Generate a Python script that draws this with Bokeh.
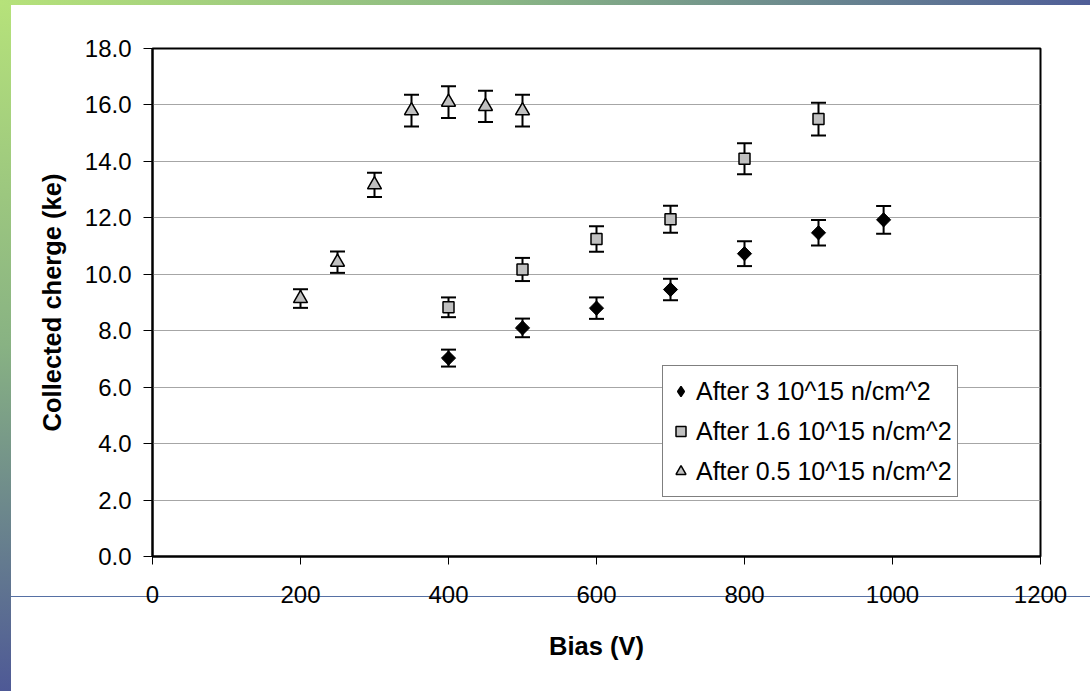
import numpy as np
from bokeh.plotting import figure
from bokeh.models import Range1d, FixedTicker, NumeralTickFormatter, Legend, LegendItem
from bokeh.embed import file_html
from bokeh.resources import INLINE

# ---------------- data ----------------
x_title = "Bias (V)"
y_title = "Collected cherge (ke)"
x_ticks = [0, 200, 400, 600, 800, 1000, 1200]
y_ticks = [0, 2, 4, 6, 8, 10, 12, 14, 16, 18]

label_3 = "After 3 10^15 n/cm^2"
bias_3 = [400, 500, 600, 700, 800, 900, 988]
charge_3 = [7.03, 8.10, 8.80, 9.46, 10.73, 11.47, 11.93]
err_3 = [0.30, 0.33, 0.38, 0.38, 0.44, 0.45, 0.49]

label_16 = "After 1.6 10^15 n/cm^2"
bias_16 = [400, 500, 600, 700, 800, 900]
charge_16 = [8.83, 10.17, 11.25, 11.95, 14.09, 15.50]
err_16 = [0.35, 0.41, 0.45, 0.48, 0.55, 0.58]

label_05 = "After 0.5 10^15 n/cm^2"
bias_05 = [200, 250, 300, 350, 400, 450, 500]
charge_05 = [9.14, 10.43, 13.17, 15.80, 16.10, 15.95, 15.80]
err_05 = [0.33, 0.38, 0.43, 0.56, 0.56, 0.55, 0.56]

FONT = "Liberation Sans"

p = figure(width=1090, height=691, output_backend="svg", toolbar_location=None,
           x_range=Range1d(0, 1200), y_range=Range1d(0, 18),
           min_border_left=152, min_border_right=50, min_border_top=48, min_border_bottom=135)

# slide-style background (gradient bars, white sheet, thin blue rule)
p.border_fill_alpha = 0
p.background_fill_color = "white"
p.styles = {
    "background": (
        "linear-gradient(#5670a4, #5670a4) 11px 596px / calc(100% - 11px) 1px no-repeat, "
        "linear-gradient(#ffffff, #ffffff) 11px 5px / calc(100% - 11px) calc(100% - 5px) no-repeat, "
        "linear-gradient(to right, #b6e27a, #8bb884 45%, #4f5e98) 0 0 / 100% 5px no-repeat, "
        "linear-gradient(to bottom, #b6e27a, #88b283 50%, #4e5996) 0 0 / 11px 100% no-repeat"
    )
}

p.outline_line_color = "black"
p.outline_line_width = 2

p.xgrid.grid_line_color = None
p.ygrid.grid_line_color = "#a6a6a6"
p.ygrid.grid_line_width = 1

p.xaxis.ticker = FixedTicker(ticks=x_ticks)
p.yaxis.ticker = FixedTicker(ticks=y_ticks)
p.yaxis.formatter = NumeralTickFormatter(format="0.0")

for ax in (p.xaxis, p.yaxis):
    ax.axis_line_color = "black"
    ax.axis_line_width = 2
    ax.major_tick_line_color = "black"
    ax.major_tick_line_width = 1
    ax.major_tick_in = 0
    ax.minor_tick_line_color = None
    ax.major_label_text_font = FONT
    ax.major_label_text_font_size = "24px"
    ax.major_label_text_color = "black"
    ax.axis_label_text_font = FONT
    ax.axis_label_text_font_size = "25.5px"
    ax.axis_label_text_font_style = "bold"
    ax.axis_label_text_color = "black"

p.xaxis.major_tick_out = 8
p.yaxis.major_tick_out = 9
p.xaxis.major_label_standoff = 21
p.yaxis.major_label_standoff = 12
p.xaxis.axis_label = x_title
p.yaxis.axis_label = y_title
p.xaxis.axis_label_standoff = 26
p.yaxis.axis_label_standoff = 16


def error_bars(xs, ys, es):
    lo = [y - e for y, e in zip(ys, es)]
    hi = [y + e for y, e in zip(ys, es)]
    p.segment(x0=xs, y0=lo, x1=xs, y1=hi, line_color="black", line_width=2)
    p.scatter(x=xs + xs, y=lo + hi, marker="dash", size=15, line_color="black", line_width=2)


error_bars(bias_3, charge_3, err_3)
error_bars(bias_16, charge_16, err_16)
error_bars(bias_05, charge_05, err_05)

# diamond series: a narrow diamond (used as legend key) covered by a square turned 45 degrees
r3 = p.scatter(x=bias_3, y=charge_3, marker="diamond", size=13,
               fill_color="black", line_color="black", line_width=1.5)
p.scatter(x=bias_3, y=charge_3, marker="square", angle=np.pi / 4, size=10,
          fill_color="black", line_color="black", line_width=1)
r16 = p.scatter(x=bias_16, y=charge_16, marker="square", size=11,
                fill_color="#c0c0c0", line_color="black", line_width=1.5)
r05 = p.scatter(x=bias_05, y=charge_05, marker="triangle", size=14,
                fill_color="#c0c0c0", line_color="black", line_width=1.5)

legend = Legend(items=[LegendItem(label=label_3, renderers=[r3]),
                       LegendItem(label=label_16, renderers=[r16]),
                       LegendItem(label=label_05, renderers=[r05])],
                location=(510, 59), orientation="vertical",
                label_text_font=FONT, label_text_font_size="25px", label_text_color="black",
                glyph_width=25, glyph_height=40, label_height=40, label_standoff=3,
                padding=5, spacing=0, margin=0,
                border_line_color="black", border_line_width=1,
                background_fill_color="white", background_fill_alpha=1)
p.add_layout(legend, "center")

html = file_html(p, INLINE)
open("out.html", "w").write(html)
